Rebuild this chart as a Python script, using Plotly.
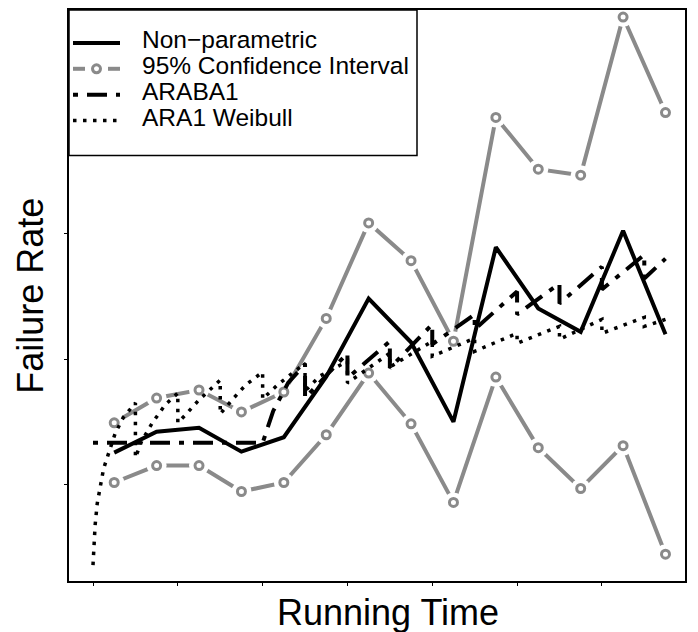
import plotly.graph_objects as go

# observation times (midpoints of intervals) and rates
t_obs = [0.5, 1.5, 2.5, 3.5, 4.5, 5.5, 6.5, 7.5, 8.5, 9.5, 10.5, 11.5, 12.5, 13.5]
nonparam = [1.254, 1.421, 1.452, 1.262, 1.377, 1.861, 2.484, 2.135, 1.500,
            2.893, 2.405, 2.218, 3.024, 2.198]
ci_upper = [1.492, 1.690, 1.754, 1.579, 1.738, 2.325, 3.087, 2.786, 2.143,
            3.929, 3.516, 3.468, 4.730, 3.968]
ci_lower = [1.016, 1.151, 1.151, 0.944, 1.016, 1.397, 1.889, 1.484, 0.857,
            1.857, 1.294, 0.968, 1.310, 0.444]

# fitted intensity, ARABA1 model (drops at each failure)
t_araba = [0, 4, 4.25, 4.6, 5, 5, 6, 6, 7, 7, 8, 8, 9, 9, 10, 10, 11, 11,
           12, 12, 13, 13, 13.5]
y_araba = [1.333, 1.333, 1.587, 1.810, 1.960, 1.690, 2.048, 1.849, 2.143,
           1.929, 2.278, 2.119, 2.357, 2.238, 2.540, 2.357, 2.603, 2.444,
           2.738, 2.556, 2.833, 2.643, 2.802]

# fitted intensity, ARA1 Weibull model
t_weib = [0, 0.02, 0.05, 0.1, 0.17, 0.25, 0.35, 0.52, 0.71, 1,
          1, 1.15, 1.4, 1.7, 2, 2, 2.2, 2.5, 3, 3, 3.3, 3.6, 4,
          4, 4.35, 4.7, 5, 5, 5.35, 6, 6, 7, 7, 8, 8, 9, 9, 10,
          10, 11, 11, 12, 12, 13, 13, 13.5]
y_weib = [0.357, 0.516, 0.675, 0.849, 0.992, 1.127, 1.230, 1.405, 1.532, 1.651,
          1.214, 1.349, 1.492, 1.635, 1.730, 1.492, 1.563, 1.675, 1.833,
          1.563, 1.683, 1.794, 1.897, 1.683, 1.794, 1.889, 1.968, 1.746,
          1.865, 1.984, 1.810, 2.048, 1.937, 2.143, 2.024, 2.167, 2.063,
          2.206, 2.127, 2.262, 2.159, 2.317, 2.206, 2.333, 2.262, 2.317]

x_ticks = [0, 2, 4, 6, 8, 10, 12]
y_ticks = [1, 2, 3]

legend_labels = ["Non\u2212parametric", "95% Confidence Interval",
                 "ARABA1", "ARA1 Weibull"]

GRAY = "#8a8a8a"
FONT = "Liberation Sans, Arial, sans-serif"
ARABA_DASH = "5px,9px,20px,9px"
WEIB_DASH = "3.5px,6.5px"

# page body has an 8px margin; plot area spans 616 x 573 px
PW, PH = 616.0, 573.0

fig = go.Figure()

# confidence bounds: line with white gaps round each point (like R type="b")
for ys in (ci_upper, ci_lower):
    fig.add_trace(go.Scatter(
        x=t_obs, y=ys, mode="lines+markers",
        line=dict(color=GRAY, width=4),
        marker=dict(size=20, color="white", line=dict(width=0)),
        showlegend=False, hoverinfo="skip",
    ))
    fig.add_trace(go.Scatter(
        x=t_obs, y=ys, mode="markers",
        marker=dict(size=8, color="white", line=dict(color=GRAY, width=3)),
        showlegend=False,
    ))

fig.add_trace(go.Scatter(
    x=t_obs, y=nonparam, mode="lines", name=legend_labels[0],
    line=dict(color="black", width=4), showlegend=False,
))
fig.add_trace(go.Scatter(
    x=t_araba, y=y_araba, mode="lines", name=legend_labels[2],
    line=dict(color="black", width=4, dash=ARABA_DASH), showlegend=False,
))
fig.add_trace(go.Scatter(
    x=t_weib, y=y_weib, mode="lines", name=legend_labels[3],
    line=dict(color="black", width=3.5, dash=WEIB_DASH), showlegend=False,
))


# --- legend box drawn by hand (R-style) ---
def px_x(px):
    return px / PW


def px_y(py):
    return 1 - py / PH


shapes = [dict(type="rect", xref="paper", yref="paper", layer="above",
               x0=0, x1=px_x(348), y0=1, y1=px_y(146),
               fillcolor="white", line=dict(color="black", width=1.5))]
row_y = [33, 59, 85, 111]
x_a, x_b = px_x(4), px_x(51)
samples = [
    dict(color="black", width=4),
    None,
    dict(color="black", width=4, dash=ARABA_DASH),
    dict(color="black", width=3.5, dash=WEIB_DASH),
]
for ry, ln in zip(row_y, samples):
    yy = px_y(ry)
    if ln is None:
        for a, b in ((4, 16), (39, 51)):
            shapes.append(dict(type="line", xref="paper", yref="paper",
                               layer="above", x0=px_x(a), x1=px_x(b),
                               y0=yy, y1=yy, line=dict(color=GRAY, width=4)))
        shapes.append(dict(type="circle", xref="paper", yref="paper",
                           layer="above", x0=px_x(23.5), x1=px_x(31.5),
                           y0=px_y(ry + 4), y1=px_y(ry - 4), fillcolor="white",
                           line=dict(color=GRAY, width=3)))
    else:
        shapes.append(dict(type="line", xref="paper", yref="paper",
                           layer="above", x0=x_a, x1=x_b, y0=yy, y1=yy, line=ln))

annotations = [
    dict(text=lab, xref="paper", yref="paper", x=px_x(71), y=px_y(ry - 3),
         xanchor="left", yanchor="middle", showarrow=False,
         font=dict(size=24.5, family=FONT))
    for lab, ry in zip(legend_labels, row_y)
]
annotations += [
    dict(text="Running Time", xref="paper", yref="paper",
         x=0.518, y=-0.056, xanchor="center", yanchor="middle",
         showarrow=False, font=dict(size=36, family=FONT)),
    dict(text="Failure Rate", xref="paper", yref="paper",
         x=-0.063, y=0.5, xanchor="center", yanchor="middle",
         textangle=-90, showarrow=False, font=dict(size=36, family=FONT)),
]

axis_common = dict(
    showgrid=False, zeroline=False, showticklabels=False,
    ticks="outside", ticklen=3, tickwidth=1, tickcolor="black",
    showline=True, linecolor="black", linewidth=1.5, mirror=True,
)

fig.update_layout(
    width=690, height=624,
    margin=dict(l=61, r=13, t=0, b=51),
    plot_bgcolor="white", paper_bgcolor="white",
    font=dict(family=FONT, color="black"),
    showlegend=False,
    xaxis=dict(range=[-0.566, 13.96], tickvals=x_ticks, **axis_common),
    yaxis=dict(range=[0.230, 4.786], tickvals=y_ticks, **axis_common),
    shapes=shapes,
    annotations=annotations,
)

fig.write_html("out.html")
